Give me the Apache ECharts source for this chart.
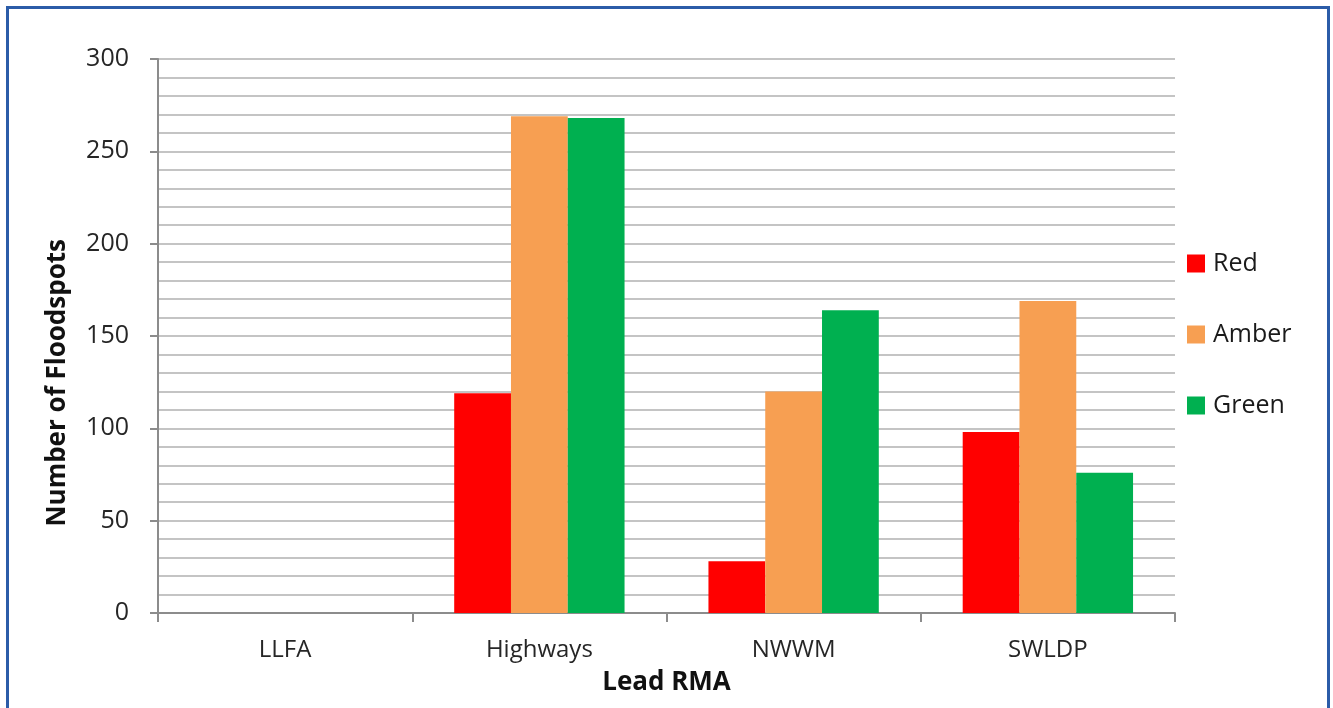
<!DOCTYPE html>
<html>
<head>
<meta charset="utf-8">
<title>Floodspots by Lead RMA</title>
<script src="https://cdn.jsdelivr.net/npm/echarts@6/dist/echarts.min.js"></script>
<style>
  html, body { margin: 0; padding: 0; background: #ffffff; overflow: hidden; }
  #frame {
    position: absolute; left: 6px; top: 6px; width: 1324px; height: 740px;
    border: 3px solid #2b5ca8; box-sizing: border-box;
  }
  #chart { position: absolute; left: 0; top: 0; width: 1333px; height: 708px; }
</style>
</head>
<body>
<div id="frame"></div>
<div id="chart"></div>
<script>
// Lead risk management authorities and floodspot counts per RAG rating
const categories = ['LLFA', 'Highways', 'NWWM', 'SWLDP'];
const redValues = [0, 119, 28, 98];
const amberValues = [0, 269, 120, 169];
const greenValues = [0, 268, 164, 76];
const seriesNames = ['Red', 'Amber', 'Green'];
const yAxisTitle = 'Number of Floodspots';
const xAxisTitle = 'Lead RMA';

const FONT = '"Open Sans", "Noto Sans", sans-serif';
const colors = ['#ff0000', '#f79f52', '#00b050'];

const chart = echarts.init(document.getElementById('chart'), null, { renderer: 'canvas' });

const bar = (name, data, color) => ({
  name: name,
  type: 'bar',
  data: data,
  barGap: '0%',
  barCategoryGap: '33%',
  itemStyle: { color: color },
  emphasis: { disabled: true }
});

chart.setOption({
  animation: false,
  backgroundColor: 'transparent',
  color: colors,
  grid: { left: 158, right: 158, top: 59, bottom: 95, containLabel: false },
  legend: {
    orient: 'vertical',
    left: 1187,
    top: 251,
    padding: 0,
    itemWidth: 18,
    itemHeight: 18,
    itemGap: 46,
    icon: 'rect',
    textStyle: { fontFamily: FONT, fontSize: 25, lineHeight: 24, color: '#1a1a1a', padding: [0, 0, 0, 3] },
    data: seriesNames
  },
  // y-axis title sits a little below the plot's mid-height
  graphic: [{
    type: 'text',
    left: 45,
    top: 239,
    rotation: Math.PI / 2,
    style: {
      text: yAxisTitle,
      fontFamily: FONT,
      fontSize: 26,
      fontWeight: 'bold',
      fill: '#111'
    }
  }],
  xAxis: {
    type: 'category',
    data: categories,
    name: xAxisTitle,
    nameLocation: 'middle',
    nameGap: 57,
    nameTextStyle: { fontFamily: FONT, fontSize: 26, fontWeight: 'bold', color: '#111' },
    axisLine: { lineStyle: { color: '#8c8c8c', width: 2 } },
    axisTick: { show: true, length: 9, lineStyle: { color: '#8c8c8c', width: 2 } },
    axisLabel: { fontFamily: FONT, fontSize: 24, color: '#262626', margin: 25 }
  },
  yAxis: {
    type: 'value',
    min: 0,
    max: 300,
    interval: 50,
    axisLine: { show: true, lineStyle: { color: '#8c8c8c', width: 2 } },
    axisTick: { show: true, length: 8, lineStyle: { color: '#8c8c8c', width: 2 } },
    axisLabel: { fontFamily: FONT, fontSize: 25, color: '#262626', margin: 29 },
    splitLine: { show: true, lineStyle: { color: '#c4c4c4', width: 2 } },
    minorTick: { show: false, splitNumber: 5 },
    minorSplitLine: { show: true, lineStyle: { color: '#c4c4c4', width: 2 } }
  },
  series: [
    bar(seriesNames[0], redValues, colors[0]),
    bar(seriesNames[1], amberValues, colors[1]),
    bar(seriesNames[2], greenValues, colors[2])
  ]
});
</script>
</body>
</html>
